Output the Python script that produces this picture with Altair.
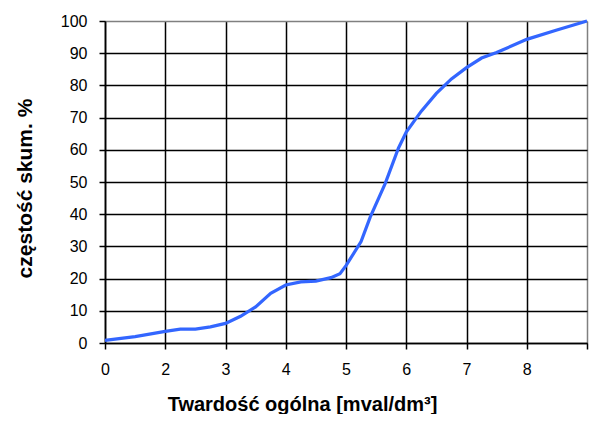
import altair as alt
import pandas as pd

# x = category position on the axis (0..8), y = cumulative frequency %
pos = [0.0, 0.5, 1.0, 1.25, 1.5, 1.75, 2.0, 2.25, 2.5, 2.75, 3.0, 3.25, 3.5,
       3.75, 3.9, 4.0, 4.25, 4.4, 4.65, 4.87, 5.0, 5.25, 5.5, 5.75, 6.0,
       6.25, 6.5, 7.0, 7.5, 8.0]
freq = [0.8, 2.0, 3.6, 4.3, 4.3, 5.0, 6.1, 8.3, 11.2, 15.4, 18.0, 19.0, 19.2,
        20.3, 21.5, 24.0, 31.5, 39.0, 49.5, 60.5, 65.5, 72.0, 77.5, 82.0, 85.5,
        88.5, 90.2, 94.3, 97.2, 100.0]
x_ticks = [0, 1, 2, 3, 4, 5, 6, 7, 8]
x_labels = ["0", "2", "3", "4", "5", "6", "7", "8", ""]
y_ticks = [0, 10, 20, 30, 40, 50, 60, 70, 80, 90, 100]

df = pd.DataFrame({"pos": pos, "freq": freq})

label_expr = "[" + ",".join("'%s'" % s for s in x_labels) + "][datum.value]"

FONT = "Liberation Sans"

chart = alt.Chart(df).mark_line(color="#3366FF", strokeWidth=3.2).encode(
    x=alt.X("pos:Q",
            scale=alt.Scale(domain=[0, 8], nice=False, zero=False),
            axis=alt.Axis(values=x_ticks, labelExpr=label_expr,
                          title="Twardość ogólna [mval/dm³]",
                          grid=True,
                          gridColor={"condition": {"test": "datum.value === 8", "value": "#808080"}, "value": "black"},
                          gridWidth=1.5, gridOpacity=1,
                          domainColor="black", domainWidth=1.6,
                          tickColor="black", tickSize=6, tickWidth=1.5,
                          labelFont=FONT, labelFontSize=16, labelColor="black",
                          labelPadding=12, labelFlush=False,
                          titleFont=FONT, titleFontSize=20, titleFontWeight="bold",
                          titleColor="black", titleX=197, titleY=67,
                          titleAlign="center", titleBaseline="alphabetic")),
    y=alt.Y("freq:Q",
            scale=alt.Scale(domain=[0, 100], nice=False),
            axis=alt.Axis(values=y_ticks,
                          title="częstość skum. %",
                          grid=True,
                          gridColor={"condition": {"test": "datum.value === 100", "value": "#808080"}, "value": "black"},
                          gridWidth=1.5, gridOpacity=1,
                          domainColor="black", domainWidth=1.6,
                          tickColor="black", tickSize=6, tickWidth=1.5,
                          labelFont=FONT, labelFontSize=16, labelColor="black",
                          labelPadding=12, labelFlush=False,
                          titleFont=FONT, titleFontSize=21, titleFontWeight="bold",
                          titleColor="black", titleX=-80, titleY=167,
                          titleAngle=-90, titleAlign="center",
                          titleBaseline="middle")),
).properties(
    width=482, height=322,
    autosize=alt.AutoSizeParams(type="none"),
    padding={"left": 97, "top": 13, "right": 2, "bottom": 71},
).configure_view(stroke=None).configure(background="white")

chart.save("out.html", embed_options={"renderer": "svg", "actions": False})
